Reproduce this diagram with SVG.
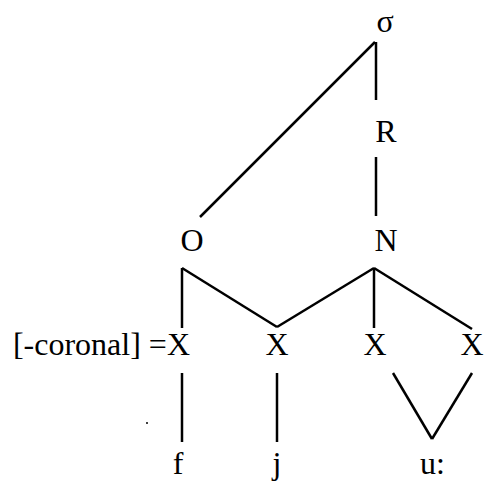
<svg xmlns="http://www.w3.org/2000/svg" width="484" height="481" viewBox="0 0 484 481">
<style>
text{font-family:"Liberation Serif","Times New Roman",serif;font-size:32px;fill:#000}
.c line{stroke:#000;stroke-width:2.5;stroke-linecap:butt}
</style>
<rect width="484" height="481" fill="#fff"/>
<g class="c" id="connectors">
<line x1="375" y1="42" x2="200" y2="217"/>
<line x1="376" y1="42" x2="376" y2="100"/>
<line x1="376" y1="157" x2="376" y2="216"/>
<line x1="182" y1="268" x2="182" y2="328"/>
<line x1="182" y1="268" x2="277" y2="327"/>
<line x1="374" y1="268" x2="277" y2="327"/>
<line x1="374" y1="268" x2="374" y2="328"/>
<line x1="374" y1="268" x2="472" y2="329"/>
<line x1="182" y1="373" x2="182" y2="442"/>
<line x1="277" y1="373" x2="277" y2="442"/>
<line x1="393" y1="373" x2="432" y2="439"/>
<line x1="472" y1="373" x2="432" y2="439"/>
</g>
<g id="sigma"><text x="385" y="32" text-anchor="middle">σ</text></g>
<g id="R"><text x="386" y="142" text-anchor="middle">R</text></g>
<g id="O"><text x="192" y="251" text-anchor="middle">O</text></g>
<g id="N"><text x="386" y="251" text-anchor="middle">N</text></g>
<g id="X1"><text x="190" y="355" text-anchor="end">[-coronal] =X</text></g>
<g id="X2"><text x="277" y="355" text-anchor="middle">X</text></g>
<g id="X3"><text x="375" y="355" text-anchor="middle">X</text></g>
<g id="X4"><text x="472" y="355" text-anchor="middle">X</text></g>
<g id="f"><text x="178" y="474" text-anchor="middle">f</text></g>
<g id="j"><text x="277" y="474" text-anchor="middle">j</text></g>
<g id="u"><text x="420" y="474">u:</text></g>
<circle cx="147" cy="423" r="1" fill="#000"/>
</svg>
